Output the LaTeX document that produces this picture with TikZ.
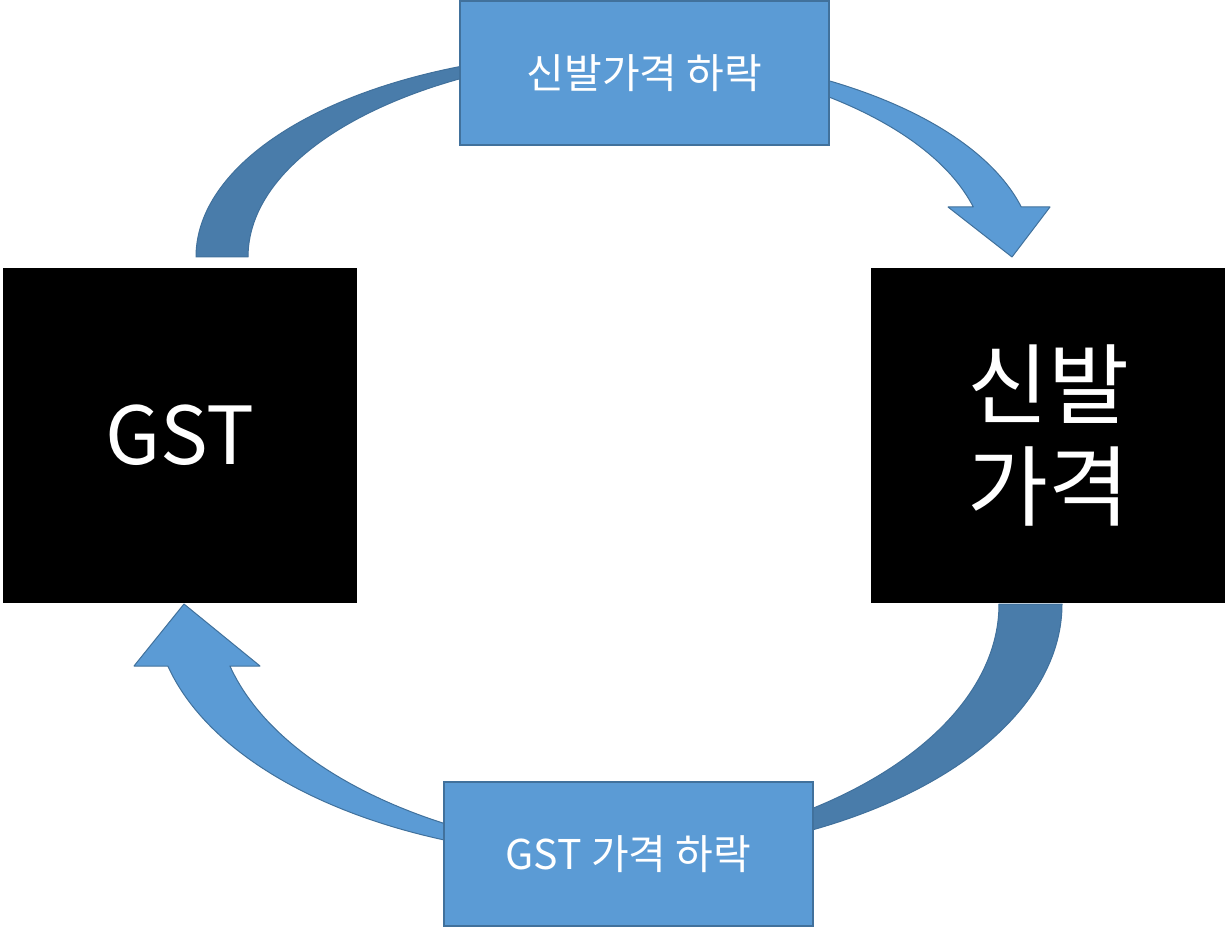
\documentclass[tikz,border=0pt]{standalone}
\usepackage{fontspec}
\setmainfont{Noto Sans CJK KR}
\usetikzlibrary{positioning}
\definecolor{boxblue}{HTML}{5B9BD5}
\definecolor{boxline}{HTML}{41719C}
\definecolor{backblue}{HTML}{497CAA}
\tikzstyle{bigbox} = [rectangle, minimum width=354pt, minimum height=335pt, inner sep=0pt, fill=black, text=white, align=center]
\tikzstyle{labelbox} = [rectangle, minimum width=369pt, minimum height=144pt, inner sep=0pt, fill=boxblue, draw=boxline, line width=1.3pt, text=white, font=\fontsize{41}{48}\selectfont]
\tikzstyle{front} = [fill=boxblue, draw=boxline, line width=1pt, line join=round]
\tikzstyle{back} = [fill=backblue, draw=boxline, line width=1pt, line join=round]

\begin{document}
\begin{tikzpicture}[x=1pt, y=1pt]
\useasboundingbox (0,0) rectangle (1228,927);

% Arrows (top: GST -> shoe price)
\draw [back] (196,670) arc[start angle=180, end angle=86.44, x radius=419pt, y radius=205pt]
  arc[start angle=93.56, end angle=180, x radius=419pt, y radius=205pt] -- cycle;
\draw [front] (591,874.66) arc[start angle=93.28, end angle=14.12, x radius=419pt, y radius=205pt]
  -- (1050,720) -- (1012,670) -- (948,720) -- (973.3,720)
  arc[start angle=14.12, end angle=86.72, x radius=419pt, y radius=205pt] -- cycle;

% Arrows (bottom: shoe price -> GST)
\draw [back] (1062,323) arc[start angle=360, end angle=266.02, x radius=454pt, y radius=253pt]
  arc[start angle=273.98, end angle=360, x radius=454pt, y radius=253pt] -- cycle;
\draw [front] (639,70.6) arc[start angle=273.92, end angle=194.19, x radius=454pt, y radius=253pt]
  -- (134,261) -- (184,323) -- (260,261) -- (229.9,261)
  arc[start angle=194.19, end angle=266.08, x radius=454pt, y radius=253pt] -- cycle;

% Nodes
\node (gst) [bigbox, font=\fontsize{80}{100}\selectfont] at (180,491.5) {GST};
\node (shoe) [bigbox, font=\fontsize{88}{102}\selectfont, right=514pt of gst] {신발\\가격};
\node (shoedrop) [labelbox] at (644.5,854) {신발가격 하락};
\node (gstdrop) [labelbox] at (628.5,73) {GST 가격 하락};

\end{tikzpicture}
\end{document}
